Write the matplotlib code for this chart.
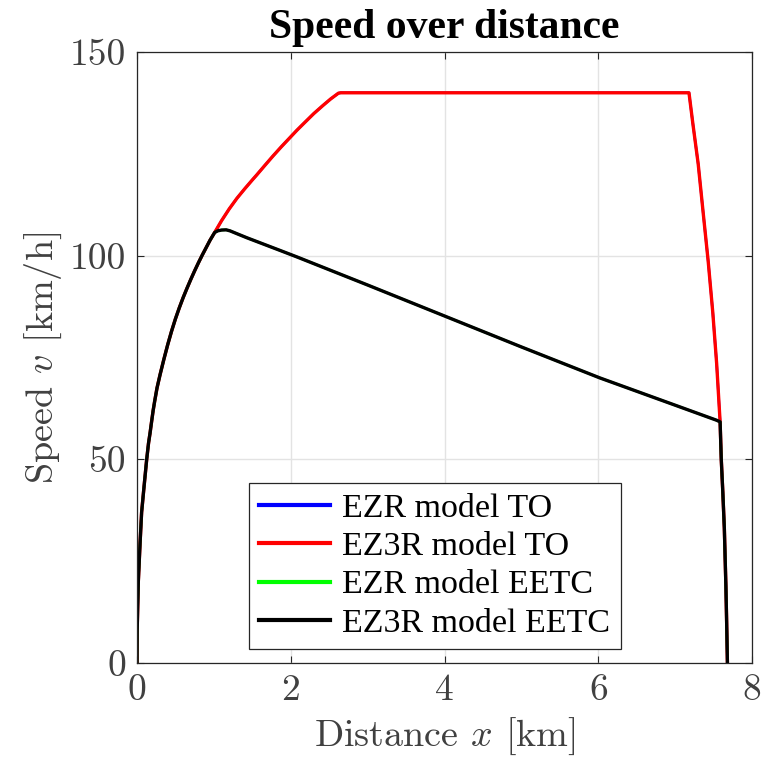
import matplotlib
matplotlib.use("Agg")
import matplotlib.pyplot as plt

# ---- data ----
acc_x = [0, 0.002, 0.017, 0.04, 0.06, 0.09, 0.126, 0.15, 0.17, 0.19, 0.21, 0.23, 0.26, 0.30, 0.35,
         0.40, 0.45, 0.50, 0.55, 0.60, 0.65, 0.70, 0.75, 0.80, 0.85, 0.90, 0.95, 1.01]
acc_v = [0, 8, 20, 29.5, 37, 43, 50, 54, 56.5, 59.3, 62, 64.3, 67.5, 70.8, 74.6,
         78.2, 81.5, 84.5, 87.2, 89.7, 92, 94.2, 96.3, 98.3, 100.2, 102, 103.8, 105.7]

to_x = [1.1, 1.2, 1.3, 1.4, 1.5, 1.556, 1.66, 1.77, 1.88, 1.99, 2.08, 2.16, 2.3, 2.42, 2.52, 2.62, 2.65,
        7.18, 7.23, 7.30, 7.36, 7.43, 7.49, 7.54, 7.585]
to_v = [108.6, 111.5, 114.1, 116.4, 118.6, 119.8, 122.1, 124.5, 126.8, 129.0, 130.8, 132.3, 134.9, 136.9, 138.5, 139.9, 140,
        140, 132.5, 122.5, 111.4, 98.6, 86, 73.5, 59.2]

coast_x = [1.05, 1.1, 1.16, 1.21, 1.3, 1.43, 1.86, 2.08, 3.0, 4.0, 5.0, 6.02, 7.0, 7.54, 7.585]
coast_v = [106.1, 106.3, 106.35, 106.1, 105.4, 104.4, 101.3, 99.7, 92.8, 85.2, 77.6, 70.0, 63.3, 59.6, 59.2]

brake_x = [7.60, 7.62, 7.64, 7.66, 7.67, 7.68]
brake_v = [50, 42, 33, 19, 10, 0]

labels = ["EZR model TO", "EZ3R model TO", "EZR model EETC", "EZ3R model EETC"]
colors = ["#0000ff", "#ff0000", "#00ff00", "#000000"]

ezr_to_x = acc_x + to_x + brake_x
ezr_to_v = acc_v + to_v + brake_v
ez3r_to_x = acc_x + to_x + brake_x
ez3r_to_v = acc_v + to_v + brake_v
ezr_eetc_x = acc_x + coast_x + brake_x
ezr_eetc_v = acc_v + coast_v + brake_v
ez3r_eetc_x = acc_x + coast_x + brake_x
ez3r_eetc_v = acc_v + coast_v + brake_v

series = [(ezr_to_x, ezr_to_v), (ez3r_to_x, ez3r_to_v),
          (ezr_eetc_x, ezr_eetc_v), (ez3r_eetc_x, ez3r_eetc_v)]
widths = [1.8, 2.4, 1.8, 2.4]

xticks = [0, 2, 4, 6, 8]
yticks = [0, 50, 100, 150]

plt.rcParams['mathtext.fontset'] = 'cm'

fig = plt.figure(figsize=(7.62, 7.62), dpi=100)
ax = fig.add_axes([0.1798, 0.1299, 0.8071, 0.8018])

for (xs, vs), c, lab, w in zip(series, colors, labels, widths):
    ax.plot(xs, vs, color=c, lw=w, label=lab)

ax.set_xlim(0, 8)
ax.set_ylim(0, 150)
ax.set_xticks(xticks)
ax.set_yticks(yticks)
ax.grid(True, color='#e3e3e3', lw=1.0)
ax.set_axisbelow(True)
ax.tick_params(direction='in', top=True, right=True, length=5, width=0.8,
               colors='#262626', labelcolor='#404040', pad=8)
for lab in ax.get_xticklabels() + ax.get_yticklabels():
    lab.set_fontfamily('cmr10')
    lab.set_fontsize(27)
for s in ax.spines.values():
    s.set_color('#262626')
    s.set_linewidth(0.9)

ax.set_xlabel(r'Distance $x$ [km]', fontfamily='cmr10', fontsize=27.5, color='#404040', labelpad=6)
ax.set_ylabel(r'Speed $v$ [km/h]', fontfamily='cmr10', fontsize=27.5, color='#404040', labelpad=4)
ax.set_title('Speed over distance', fontfamily='Liberation Serif', fontweight='bold',
             fontsize=30, pad=10)

leg = ax.legend(loc='center', bbox_to_anchor=(0.484, 0.159), prop={'family': 'Liberation Serif', 'size': 24.5},
                frameon=True, fancybox=False, edgecolor='#262626', framealpha=1,
                handlelength=2.1, handletextpad=0.35, labelspacing=0.22, borderpad=0.3, borderaxespad=0)
leg.get_frame().set_linewidth(0.9)
for h in leg.get_lines():
    h.set_linewidth(3)

fig.savefig('out.png', dpi=100)
